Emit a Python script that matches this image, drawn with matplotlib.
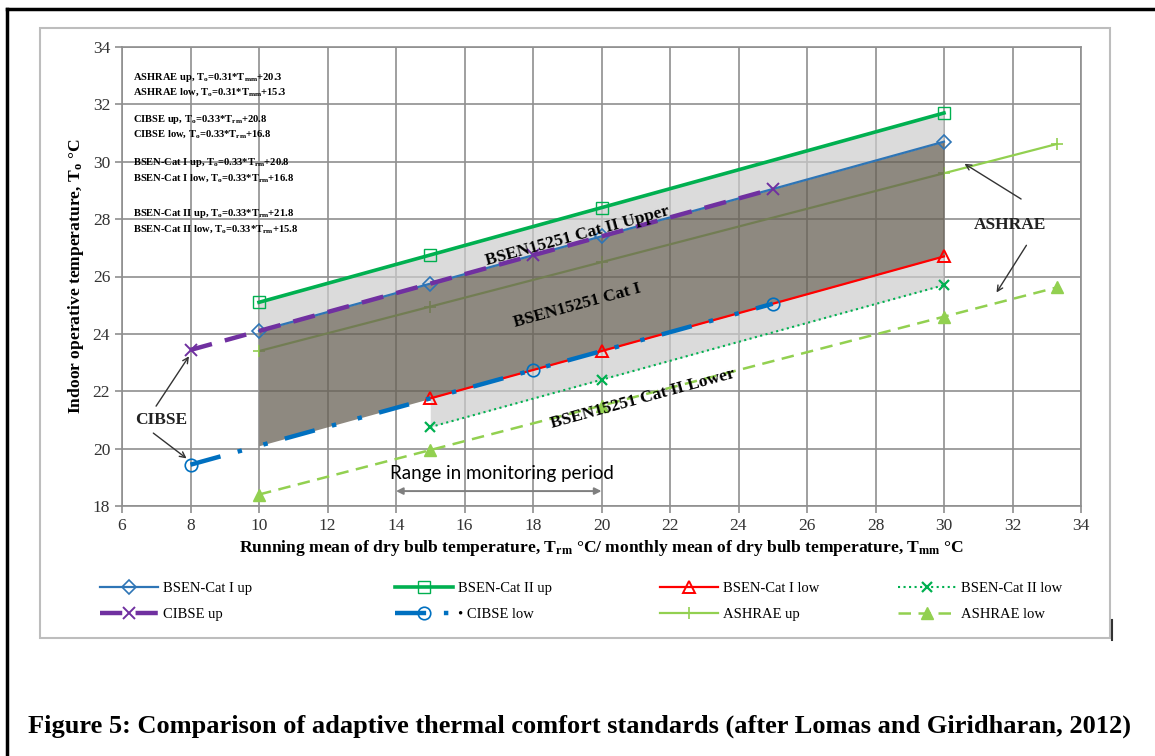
import numpy as np
import matplotlib.pyplot as plt
from matplotlib.patches import Rectangle
from matplotlib.lines import Line2D

plt.rcParams['font.family'] = ['Liberation Serif', 'DejaVu Serif']
plt.rcParams['mathtext.fontset'] = 'custom'
plt.rcParams['mathtext.rm'] = 'Liberation Serif'
plt.rcParams['mathtext.it'] = 'Liberation Serif:italic'
plt.rcParams['mathtext.bf'] = 'Liberation Serif:bold'
plt.rcParams['mathtext.default'] = 'bf'

# Valores
cat1_up_x = [10, 15, 20, 30]
cat1_up_y = [24.1, 25.75, 27.4, 30.7]
cat2_up_x = [10, 15, 20, 30]
cat2_up_y = [25.1, 26.75, 28.4, 31.7]
cat1_low_x = [15, 20, 30]
cat1_low_y = [21.75, 23.4, 26.7]
cat2_low_x = [15, 20, 30]
cat2_low_y = [20.75, 22.4, 25.7]
cibse_up_x = [8, 18, 25]
cibse_up_y = [23.44, 26.74, 29.05]
cibse_low_x = [8, 18, 25]
cibse_low_y = [19.44, 22.74, 25.05]
ashrae_up_x = [10, 15, 20, 30, 33.3]
ashrae_up_y = [23.4, 24.95, 26.5, 29.6, 30.62]
ashrae_low_x = [10, 15, 20, 30, 33.3]
ashrae_low_y = [18.4, 19.95, 21.5, 24.6, 25.62]

# zonas sombreadas
dark_x = [10, 15, 30]
dark_top = [24.1, 25.75, 30.7]
dark_bot = [20.1, 21.75, 26.7]
light_up_x = [10, 30]
light_up_top = [25.1, 31.7]
light_up_bot = [24.1, 30.7]
light_low_x = [15, 30]
light_low_top = [21.75, 26.7]
light_low_bot = [20.75, 25.7]

ecuaciones = [
    (32.95, r'ASHRAE up, T$_{o}$=0.31*T$_{mm}$+20.3'),
    (32.43, r'ASHRAE low, T$_{o}$=0.31*T$_{mm}$+15.3'),
    (31.46, r'CIBSE up, T$_{o}$=0.33*T$_{rm}$+20.8'),
    (30.97, r'CIBSE low, T$_{o}$=0.33*T$_{rm}$+16.8'),
    (29.96, r'BSEN-Cat I up, T$_{o}$=0.33*T$_{rm}$+20.8'),
    (29.43, r'BSEN-Cat I low, T$_{o}$=0.33*T$_{rm}$+16.8'),
    (28.18, r'BSEN-Cat II up, T$_{o}$=0.33*T$_{rm}$+21.8'),
    (27.66, r'BSEN-Cat II low, T$_{o}$=0.33*T$_{rm}$+15.8'),
]

fig = plt.figure(figsize=(11.55, 7.56), dpi=100)
ax = fig.add_axes([122/1155, 1-506/756, (1081-122)/1155, (506-47)/756])

ax.set_xlim(6, 34)
ax.set_ylim(18, 34)
ax.set_xticks(np.arange(6, 35, 2))
ax.set_yticks(np.arange(18, 35, 2))
ax.grid(True, color='#8f8f8f', lw=1.2, zorder=0.5)
ax.set_axisbelow(True)
for s in ax.spines.values():
    s.set_color('#8f8f8f')
    s.set_linewidth(1.2)
ax.tick_params(direction='out', length=5, color='#8f8f8f', labelsize=12.5,
               labelcolor='#333333', width=1.2)

# linea ASHRAE up por debajo del sombreado
l_ashup, = ax.plot(ashrae_up_x, ashrae_up_y, color='#92d050', lw=1.6,
                   marker='+', ms=8, mew=1.2, zorder=1)

ax.fill_between(light_up_x, light_up_bot, light_up_top, color='#cdcdcd',
                alpha=0.7, lw=0, zorder=2)
ax.fill_between(light_low_x, light_low_bot, light_low_top, color='#cdcdcd',
                alpha=0.7, lw=0, zorder=2)
ax.fill_between(dark_x, dark_bot, dark_top, color='#686155', alpha=0.75,
                lw=0, zorder=2)

l_c1up, = ax.plot(cat1_up_x, cat1_up_y, color='#2e75b6', lw=1.6, marker='D',
                  ms=7, mfc='none', mew=1.2, zorder=3)
l_c2up, = ax.plot(cat2_up_x, cat2_up_y, color='#00b050', lw=2.6, marker='s',
                  ms=9, mfc='none', mew=1.0, zorder=3)
l_c1low, = ax.plot(cat1_low_x, cat1_low_y, color='#ff0000', lw=1.6, marker='^',
                   ms=8, mfc='none', mew=1.4, zorder=3)
l_c2low, = ax.plot(cat2_low_x, cat2_low_y, color='#00b050', lw=1.5, ls=':',
                   marker='x', ms=7, mew=1.6, zorder=3)
l_cibup, = ax.plot(cibse_up_x, cibse_up_y, color='#7030a0', lw=3.2,
                   dashes=(5, 3), marker='x', ms=9, mew=1.4, zorder=4)
l_ciblow, = ax.plot(cibse_low_x, cibse_low_y, color='#0070c0', lw=3.2,
                    dashes=(7, 4, 1, 5, 1, 4), marker='o', ms=9, mfc='none',
                    mew=1.2, zorder=4)
l_ashlow, = ax.plot(ashrae_low_x, ashrae_low_y, color='#92d050', lw=1.8,
                    dashes=(5, 3), marker='^', ms=9, zorder=3)

# ecuaciones
for yy, txt in ecuaciones:
    ax.text(6.32, yy, txt, fontsize=7.6, fontweight='bold', va='center',
            ha='left', zorder=5)

# etiquetas de bandas
ax.text(19.3, 27.4, 'BSEN15251 Cat II Upper', rotation=15.4, fontsize=12.5,
        fontweight='bold', ha='center', va='center', zorder=5)
ax.text(19.3, 24.97, 'BSEN15251 Cat I', rotation=15.4, fontsize=12.5,
        fontweight='bold', ha='center', va='center', zorder=5)
ax.text(21.2, 21.75, 'BSEN15251 Cat II Lower', rotation=15.4, fontsize=12.5,
        fontweight='bold', ha='center', va='center', zorder=5)

# flechas CIBSE / ASHRAE
ax.text(7.15, 21.0, 'CIBSE', fontsize=12.5, fontweight='bold', ha='center',
        va='center', color='#222222')
ax.annotate('', xy=(8.0, 23.3), xytext=(6.95, 21.4),
            arrowprops=dict(arrowstyle='->', color='#333333', lw=1.0))
ax.annotate('', xy=(7.95, 19.6), xytext=(6.85, 20.6),
            arrowprops=dict(arrowstyle='->', color='#333333', lw=1.0))
ax.text(31.93, 27.8, 'ASHRAE', fontsize=12.5, fontweight='bold', ha='center',
        va='center', color='#222222')
ax.annotate('', xy=(30.53, 29.98), xytext=(32.32, 28.65),
            arrowprops=dict(arrowstyle='->', color='#333333', lw=1.0))
ax.annotate('', xy=(31.49, 25.36), xytext=(32.45, 27.17),
            arrowprops=dict(arrowstyle='->', color='#333333', lw=1.0))

# periodo de monitorizacion
ax.text(17.1, 19.15, 'Range in monitoring period', fontsize=13.5,
        family=['Lato', 'DejaVu Sans'], ha='center', va='center')
ax.annotate('', xy=(14, 18.52), xytext=(20, 18.52),
            arrowprops=dict(arrowstyle='<|-|>', color='#7f7f7f', lw=1.4,
                            mutation_scale=10, shrinkA=0, shrinkB=0))

ax.set_xlabel(r'Running mean of dry bulb temperature, T$_{rm}$ °C/ monthly mean of dry bulb temperature, T$_{mm}$ °C',
              fontsize=12.6, fontweight='bold', labelpad=3)
ax.set_ylabel(r'Indoor operative temperature, T$_{o}$ °C', fontsize=12.6,
              fontweight='bold', labelpad=5)

# leyenda: cuatro columnas colocadas a mano
columnas = [
    ([l_c1up, l_cibup], ['BSEN-Cat I up', 'CIBSE up'], 100),
    ([l_c2up, l_ciblow], ['BSEN-Cat II up', '\u2022 CIBSE low'], 395),
    ([l_c1low, l_ashup], ['BSEN-Cat I low', 'ASHRAE up'], 660),
    ([l_c2low, l_ashlow], ['BSEN-Cat II low', 'ASHRAE low'], 898),
]
for hs, ls, xpix in columnas:
    fig.legend(hs, ls, loc='upper left',
               bbox_to_anchor=(xpix/1155, 1-582/756), frameon=False,
               fontsize=10.5, handlelength=4.0, handletextpad=0.35,
               labelspacing=0.85, borderpad=0, borderaxespad=0)

# marcos
fig.add_artist(Rectangle((40/1155, 1-638/756), 1070/1155, 610/756,
                         fill=False, edgecolor='#bdbdbd', lw=1.5,
                         transform=fig.transFigure))
fig.add_artist(Line2D([1112/1155, 1112/1155], [1-620/756, 1-640/756],
                      color='#333333', lw=1.5, transform=fig.transFigure))
fig.add_artist(Line2D([7/1155, 7/1155], [0, 1-9/756], color='black', lw=2.5,
                      transform=fig.transFigure))
fig.add_artist(Line2D([7/1155, 1], [1-9/756, 1-9/756], color='black', lw=2.5,
                      transform=fig.transFigure))

fig.text(580/1155, 1-726/756,
         'Figure 5: Comparison of adaptive thermal comfort standards (after Lomas and Giridharan, 2012)',
         fontsize=19, fontweight='bold', ha='center', va='center')

fig.savefig('out.png', dpi=100)
